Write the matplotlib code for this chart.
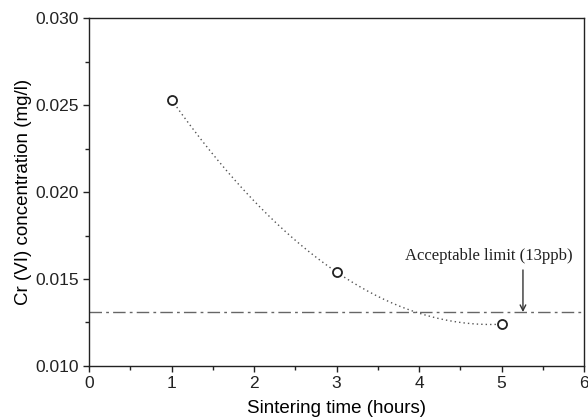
import numpy as np
import matplotlib.pyplot as plt
from matplotlib.ticker import MultipleLocator

hours = [1, 3, 5]
cr_conc = [0.0253, 0.0154, 0.0124]
limit = 0.0131
limit_label = "Acceptable limit (13ppb)"

plt.rcParams['font.family'] = ['Liberation Sans', 'DejaVu Sans']

fig = plt.figure(figsize=(5.88, 4.2), dpi=100)
ax = fig.add_axes([0.1514, 0.1286, 0.8418, 0.8284])

# smooth trend through the measurements
coef = np.polyfit(hours, cr_conc, 2)
xs = np.linspace(hours[0], hours[-1], 200)
ax.plot(xs, np.polyval(coef, xs), linestyle=(0, (1, 2.2)), color='#555555', lw=1.0)

ax.axhline(limit, color='#666666', lw=1.0, linestyle=(0, (9, 3, 2, 3)))
ax.plot(hours, cr_conc, 'o', mfc='white', mec='#222222', mew=1.3, ms=6.5)

ax.text(4.85, 0.01632, limit_label, ha='center', va='center', fontsize=12,
        family='Liberation Serif', color='#222222')
ax.annotate("", xy=(5.26, limit), xytext=(5.26, 0.01552),
            arrowprops=dict(arrowstyle='->', color='#333333', lw=1.0,
                            shrinkA=0, shrinkB=0))

ax.set_xlim(0, 6)
ax.set_ylim(0.010, 0.030)
ax.xaxis.set_major_locator(MultipleLocator(1))
ax.xaxis.set_minor_locator(MultipleLocator(0.5))
ax.yaxis.set_major_locator(MultipleLocator(0.005))
ax.yaxis.set_minor_locator(MultipleLocator(0.0025))
ax.yaxis.set_major_formatter(plt.FormatStrFormatter('%.3f'))
ax.tick_params(which='major', length=4, width=1, labelsize=12.5, colors='#222222')
ax.tick_params(which='minor', length=3, width=1, colors='#222222')
ax.set_xlabel("Sintering time (hours)", fontsize=13.5, labelpad=6)
ax.set_ylabel("Cr (VI) concentration (mg/l)", fontsize=13.5, labelpad=2)
for s in ax.spines.values():
    s.set_linewidth(1.0)
    s.set_color('#222222')

fig.savefig('out.png', dpi=100)
